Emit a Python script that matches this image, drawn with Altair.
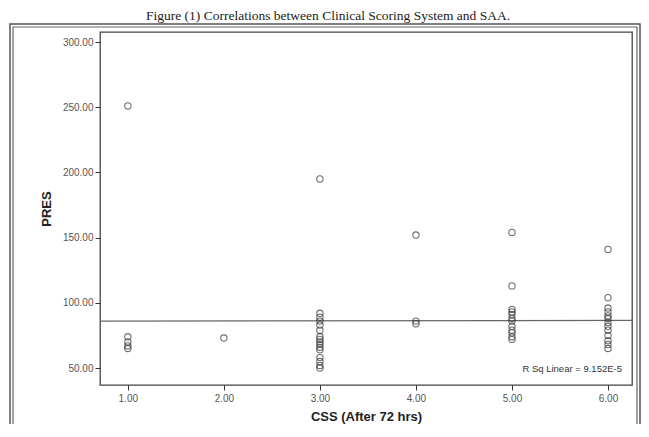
import altair as alt
import pandas as pd

# Data
css_levels = [1, 2, 3, 4, 5, 6]
pres_css1 = [251, 74, 70, 67, 65]
pres_css2 = [73]
pres_css3 = [195, 92, 89, 86, 83, 79, 74, 72, 70, 68, 66, 64, 58, 55, 52, 50]
pres_css4 = [152, 86, 84]
pres_css5 = [154, 113, 95, 93, 91, 88, 86, 82, 79, 77, 74, 72]
pres_css6 = [141, 104, 96, 93, 90, 88, 85, 82, 79, 75, 71, 68, 65]

fit_x = [0.71, 6.25]
fit_y = [86.0, 86.5]

y_ticks = [50, 100, 150, 200, 250, 300]
x_ticks = [1, 2, 3, 4, 5, 6]

title_text = "Figure (1) Correlations between Clinical Scoring System and SAA."
r2_text = "R Sq Linear = 9.152E-5"

groups = [pres_css1, pres_css2, pres_css3, pres_css4, pres_css5, pres_css6]
rows = []
for lvl, vals in zip(css_levels, groups):
    for v in vals:
        rows.append({"CSS": lvl, "PRES": v})
df = pd.DataFrame(rows)
df_fit = pd.DataFrame({"CSS": fit_x, "PRES": fit_y})
one = pd.DataFrame({"a": [0]})

W, H = 532, 353
SANS = "Liberation Sans"

xscale = alt.Scale(domain=[0.71, 6.25], nice=False, zero=False)
yscale = alt.Scale(domain=[37, 307.7], nice=False, zero=False)

xaxis = alt.Axis(values=x_ticks, format=".2f", grid=False, domain=False,
                 tickSize=5, tickColor="#333", labelColor="#555",
                 labelFont=SANS, labelFontSize=10, labelPadding=3,
                 title="CSS (After 72 hrs)", titleFont=SANS, titleFontSize=13,
                 titleFontWeight="bold", titleColor="#222", titlePadding=7)
yaxis = alt.Axis(values=y_ticks, format=".2f", grid=False, domain=False,
                 tickSize=5, tickColor="#333", labelColor="#555",
                 labelFont=SANS, labelFontSize=10, labelPadding=2,
                 title="PRES", titleFont=SANS, titleFontSize=13,
                 titleFontWeight="bold", titleColor="#222",
                 titleX=-54, titleY=H / 2, titleAlign="center", titleBaseline="middle")

points = alt.Chart(df).mark_point(shape="circle", filled=False, size=40,
                                  color="#333", strokeWidth=1.1).encode(
    x=alt.X("CSS:Q", scale=xscale, axis=xaxis),
    y=alt.Y("PRES:Q", scale=yscale, axis=yaxis),
)

fit = alt.Chart(df_fit).mark_line(color="#666", strokeWidth=1.2).encode(
    x=alt.X("CSS:Q", scale=xscale),
    y=alt.Y("PRES:Q", scale=yscale),
)

r2 = alt.Chart(one).mark_text(align="right", baseline="middle", font=SANS,
                              fontSize=9.5, color="#333").encode(
    x=alt.value(W - 10), y=alt.value(H - 16), text=alt.value(r2_text))

title = alt.Chart(one).mark_text(align="center", baseline="alphabetic",
                                 font="Liberation Serif", fontSize=13.5,
                                 color="#222").encode(
    x=alt.value(228), y=alt.value(-12), text=alt.value(title_text))

frame_outer = alt.Chart(one).mark_rect(fillOpacity=0, stroke="#555", strokeWidth=1.5).encode(
    x=alt.value(-90), x2=alt.value(W + 8), y=alt.value(-8), y2=alt.value(H + 80))
frame_inner = alt.Chart(one).mark_rect(fillOpacity=0, stroke="#666", strokeWidth=1.2).encode(
    x=alt.value(-87), x2=alt.value(W + 5), y=alt.value(-5), y2=alt.value(H + 80))

chart = alt.layer(frame_outer, frame_inner, title, fit, points, r2).properties(
    width=W, height=H,
    autosize=alt.AutoSizeParams(type="none"),
    padding={"left": 92, "top": 24, "right": 9, "bottom": 39},
    background="white",
).configure_view(stroke="#444", strokeWidth=1.3)

chart.save("out.html", embed_options={"renderer": "svg", "actions": False})
